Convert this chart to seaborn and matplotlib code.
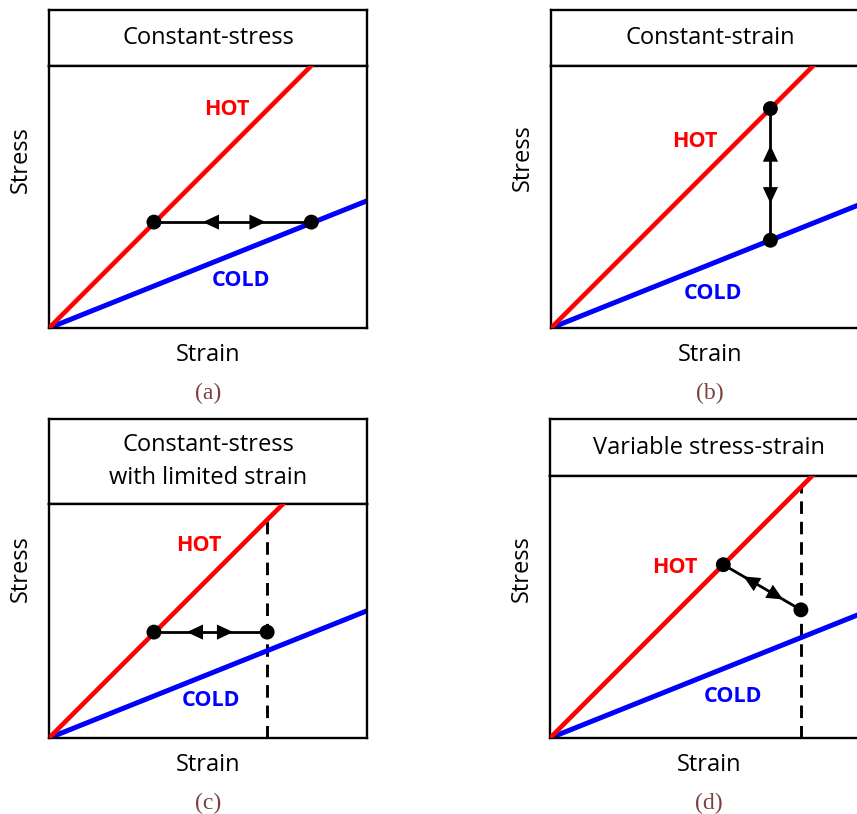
import numpy as np
import matplotlib
matplotlib.use("Agg")
import matplotlib.pyplot as plt
import seaborn as sns

# strain / stress in arbitrary units (same scale on both axes)
strain = [0.0, 1.0]
hot_stress = [0.0, 1.0]
cold_stress = [0.0, 0.40]

panel_titles = ["Constant-stress", "Constant-strain",
                "Constant-stress\nwith limited strain", "Variable stress-strain"]
panel_tags = ["(a)", "(b)", "(c)", "(d)"]

# operating points for each panel
a_strain = [0.33, 0.825]
a_stress = [0.333, 0.333]
b_strain = [0.69, 0.69]
b_stress = [0.69, 0.276]
c_strain = [0.33, 0.686]
c_stress = [0.333, 0.333]
d_strain = [0.545, 0.789]
d_stress = [0.545, 0.403]

# strain limit (dashed) in panels c and d
c_limit = 0.686
d_limit = 0.789

sns.set_theme(style="white")
plt.rcParams['font.family'] = ['Open Sans', 'DejaVu Sans']
plt.rcParams['text.color'] = 'black'

W, H = 857, 814
fig = plt.figure(figsize=(W / 100, H / 100), dpi=100)
fig.patch.set_facecolor("white")

# layout in pixels: (left, top of title box, bottom of title box, bottom of plot)
boxes = [(49, 10, 66, 328), (551, 10, 66, 328),
         (49, 419, 504, 738), (550, 419, 476, 738)]
PW = 318  # plot width in px

def px_axes(left, top, bottom):
    return fig.add_axes([left / W, (H - bottom) / H, PW / W, (bottom - top) / H])

def style_box(ax):
    ax.set_xticks([])
    ax.set_yticks([])
    for s in ax.spines.values():
        s.set_visible(True)
        s.set_color("black")
        s.set_linewidth(1.7)

def double_arrow(ax, xs, ys, tips):
    ax.plot(xs, ys, color="black", lw=2.0, zorder=4)
    x0, x1 = xs
    y0, y1 = ys
    for f, sign in [(tips[0], -1), (tips[1], 1)]:
        bx = x0 + (x1 - x0) * (f - sign * 0.05)
        by = y0 + (y1 - y0) * (f - sign * 0.05)
        tx = x0 + (x1 - x0) * f
        ty = y0 + (y1 - y0) * f
        ax.annotate("", xy=(tx, ty), xytext=(bx, by),
                    arrowprops=dict(arrowstyle="-|>,head_length=0.45,head_width=0.21",
                                    mutation_scale=26, color="black", lw=0,
                                    shrinkA=0, shrinkB=0), zorder=5)
    sns.scatterplot(x=xs, y=ys, ax=ax, color="black", s=115, edgecolor="none", zorder=6)

points = [(a_strain, a_stress), (b_strain, b_stress), (c_strain, c_stress), (d_strain, d_stress)]
limits = [None, None, c_limit, d_limit]
arrow_tips = [(0.31, 0.71), (0.28, 0.72), (0.29, 0.70), (0.26, 0.77)]
hot_pos = [(0.56, 0.686), (0.453, 0.585), (0.472, 0.604), (0.393, 0.535)]
cold_pos = [(0.604, 0.148), (0.509, 0.110), (0.509, 0.119), (0.575, 0.132)]
stress_center = [160, 158, 569, 569]

for i, (left, top, sep, bottom) in enumerate(boxes):
    tax = px_axes(left, top, sep)
    style_box(tax)
    tax.text(0.5, 0.5, panel_titles[i], ha="center", va="center", fontsize=17,
             linespacing=1.55, transform=tax.transAxes)

    ax = px_axes(left, sep, bottom)
    hpx = bottom - sep
    ax.set_xlim(0, 1)
    ax.set_ylim(0, hpx / PW)
    style_box(ax)

    if limits[i] is not None:
        xl = limits[i]
        ax.plot([xl, xl], [0, np.interp(xl, strain, hot_stress)], color="black",
                lw=2.1, ls=(0, (4.3, 2.7)), zorder=1)

    sns.lineplot(x=strain, y=cold_stress, ax=ax, color="#0000ff", linewidth=3.6, zorder=2)
    sns.lineplot(x=strain, y=hot_stress, ax=ax, color="#ff0000", linewidth=3.3, zorder=3)

    xs, ys = points[i]
    double_arrow(ax, xs, ys, arrow_tips[i])

    ax.text(*hot_pos[i], "HOT", color="#ff0000", fontsize=15.5, fontweight="bold",
            ha="center", va="center")
    ax.text(*cold_pos[i], "COLD", color="#0000ff", fontsize=15.5, fontweight="bold",
            ha="center", va="center")

    ax.set_xlabel("")
    ax.set_ylabel("")
    ax.text(0.5, -27 / hpx, "Strain", transform=ax.transAxes, ha="center",
            va="center", fontsize=17)
    ax.text(-28 / PW, (bottom - stress_center[i]) / hpx, "Stress", transform=ax.transAxes,
            ha="center", va="center", rotation=90, fontsize=17)

    ax.text(0.5, -65 / hpx, panel_tags[i], transform=ax.transAxes, ha="center",
            va="center", fontsize=17, color="#7f3f3f", family="Liberation Serif")

fig.savefig("out.png", dpi=100)
